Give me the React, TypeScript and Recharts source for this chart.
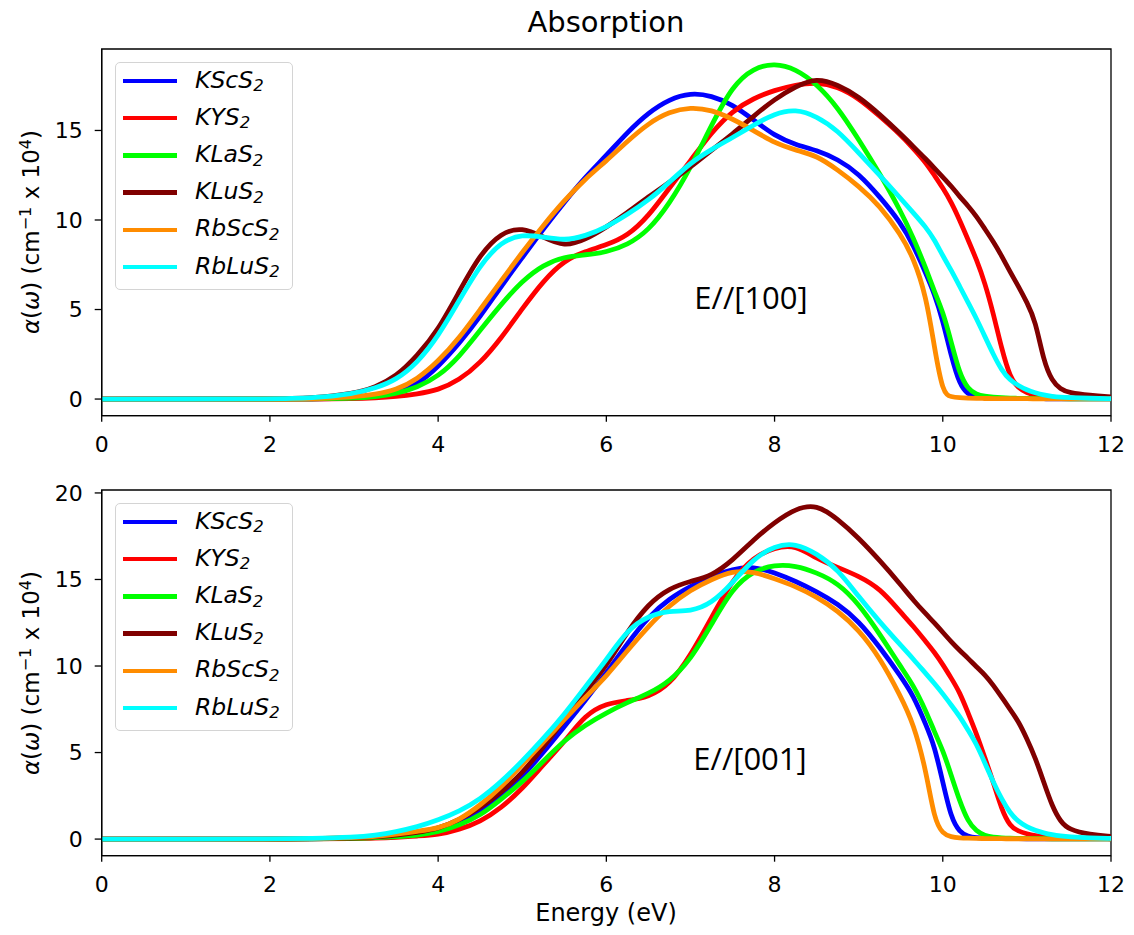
import React from "react";
import { LineChart, Line, XAxis, YAxis, ReferenceArea } from "recharts";

// Energy grid (eV) shared by every curve; finer steps where the edges fall off.
const ENERGY = [
  0, 1, 2, 2.5, 3, 3.25, 3.5, 3.75, 4, 4.25, 4.5, 4.75, 5, 5.25, 5.5, 5.75, 6, 6.25, 6.5, 6.75,
  7, 7.25, 7.5, 7.75, 8, 8.25, 8.5, 8.75, 9, 9.25, 9.5, 9.65, 9.8, 9.9, 10, 10.1, 10.2, 10.3,
  10.4, 10.5, 10.6, 10.7, 10.8, 10.9, 11, 11.1, 11.2, 11.3, 11.4, 11.5, 11.75, 12,
];

const NAMES = ["KScS2", "KYS2", "KLaS2", "KLuS2", "RbScS2", "RbLuS2"];
const COLORS = ["#0000ff", "#ff0000", "#00ff00", "#800000", "#ff8c00", "#00ffff"];

const X_TICKS = [0, 2, 4, 6, 8, 10, 12];
const Y_TICKS_100 = [0, 5, 10, 15];
const Y_TICKS_001 = [0, 5, 10, 15, 20];

// E//[100]  (alpha, 10^4 cm^-1)
const KSCS2_100 = [0, 0, 0, 0.01, 0.05, 0.12, 0.3, 0.8, 1.8, 3.1, 4.6, 6.3, 7.9, 9.5, 11.0, 12.4, 13.6, 14.9, 16.0, 16.75, 17.1, 16.95, 16.45, 15.6, 14.7, 14.2, 13.9, 13.4, 12.6, 11.3, 9.85, 8.6, 7.0, 5.9, 4.4, 2.4, 0.8, 0.25, 0.1, 0.06, 0.04, 0.03, 0.03, 0.02, 0.02, 0.02, 0.02, 0.01, 0.01, 0.01, 0.01, 0.01];
const KYS2_100 = [0, 0, 0, 0, 0.02, 0.06, 0.13, 0.28, 0.5, 1.05, 2.0, 3.4, 5.05, 6.6, 7.75, 8.25, 8.6, 9.1, 10.2, 11.8, 13.3, 14.9, 16.1, 16.8, 17.25, 17.55, 17.7, 17.45, 16.8, 15.8, 14.75, 14.0, 13.2, 12.5, 11.8, 11.0, 10.0, 8.9, 7.8, 6.5, 4.8, 2.8, 1.2, 0.6, 0.35, 0.22, 0.15, 0.1, 0.07, 0.05, 0.03, 0.02];
const KLAS2_100 = [0, 0, 0, 0.01, 0.04, 0.12, 0.3, 0.65, 1.25, 2.35, 3.85, 5.3, 6.6, 7.5, 7.95, 8.05, 8.2, 8.6, 9.4, 10.9, 12.9, 15.3, 17.5, 18.5, 18.75, 18.45, 17.6, 16.3, 14.5, 12.6, 10.5, 9.0, 7.3, 6.0, 4.9, 3.2, 1.4, 0.55, 0.25, 0.15, 0.1, 0.07, 0.05, 0.04, 0.03, 0.03, 0.02, 0.02, 0.02, 0.01, 0.01, 0.01];
const KLUS2_100 = [0, 0, 0.01, 0.04, 0.3, 0.65, 1.25, 2.4, 3.85, 6.0, 8.1, 9.3, 9.6, 9.05, 8.5, 8.9, 9.6, 10.4, 11.3, 12.1, 12.95, 13.9, 14.8, 15.8, 16.75, 17.45, 17.95, 17.55, 16.9, 15.9, 14.8, 14.1, 13.4, 12.9, 12.4, 11.9, 11.3, 10.8, 10.2, 9.5, 8.8, 8.0, 7.1, 6.3, 5.4, 4.4, 2.1, 1.0, 0.55, 0.35, 0.2, 0.12];
const RBSCS2_100 = [0, 0, 0, 0.01, 0.12, 0.25, 0.5, 1.1, 2.1, 3.4, 5.0, 6.6, 8.2, 9.7, 11.1, 12.3, 13.3, 14.4, 15.4, 16.05, 16.3, 16.15, 15.65, 15.0, 14.3, 13.9, 13.6, 12.8, 11.9, 10.8, 9.2, 7.9, 5.8, 2.9, 0.3, 0.12, 0.07, 0.05, 0.04, 0.03, 0.03, 0.02, 0.02, 0.02, 0.02, 0.01, 0.01, 0.01, 0.01, 0.01, 0.01, 0.01];
const RBLUS2_100 = [0, 0, 0.01, 0.04, 0.3, 0.6, 1.06, 2.0, 3.5, 5.5, 7.5, 8.8, 9.2, 9.05, 8.85, 9.1, 9.6, 10.3, 11.1, 12.1, 13.2, 13.95, 14.6, 15.3, 15.95, 16.2, 15.8, 15.0, 13.75, 12.5, 11.2, 10.4, 9.6, 8.9, 8.0, 7.2, 6.3, 5.4, 4.5, 3.5, 2.5, 1.6, 1.05, 0.75, 0.5, 0.35, 0.22, 0.14, 0.1, 0.08, 0.04, 0.02];

// E//[001]
const KSCS2_001 = [0, 0, 0, 0.01, 0.05, 0.1, 0.18, 0.3, 0.45, 0.9, 1.5, 2.5, 3.6, 5.0, 6.5, 8.0, 9.6, 11.3, 12.85, 13.9, 14.6, 15.2, 15.6, 15.75, 15.4, 14.9, 14.3, 13.6, 12.6, 11.1, 9.4, 8.3, 6.6, 5.4, 3.3, 1.2, 0.4, 0.15, 0.08, 0.05, 0.04, 0.03, 0.03, 0.02, 0.02, 0.02, 0.02, 0.01, 0.01, 0.01, 0.01, 0.01];
const KYS2_001 = [0, 0, 0, 0.01, 0.03, 0.05, 0.1, 0.18, 0.25, 0.55, 1.0, 1.8, 2.9, 4.3, 5.6, 7.2, 7.85, 8.0, 8.2, 8.9, 10.6, 12.8, 15.0, 16.3, 16.85, 17.0, 16.2, 15.7, 15.2, 14.5, 13.1, 12.3, 11.4, 10.8, 10.1, 9.3, 8.5, 7.3, 6.1, 4.7, 3.3, 1.7, 0.73, 0.45, 0.3, 0.2, 0.14, 0.1, 0.08, 0.06, 0.04, 0.02];
const KLAS2_001 = [0, 0, 0, 0.01, 0.04, 0.08, 0.14, 0.22, 0.4, 0.8, 1.35, 2.3, 3.3, 4.5, 5.7, 6.6, 7.3, 7.9, 8.4, 9.1, 10.35, 12.4, 14.5, 15.5, 15.85, 15.8, 15.4, 14.8, 13.6, 11.85, 9.95, 8.9, 7.4, 6.2, 5.15, 3.7, 2.2, 1.0, 0.45, 0.2, 0.1, 0.07, 0.05, 0.04, 0.03, 0.03, 0.02, 0.02, 0.02, 0.01, 0.01, 0.01];
const KLUS2_001 = [0, 0, 0, 0.02, 0.06, 0.12, 0.22, 0.38, 0.6, 1.1, 1.8, 2.7, 3.8, 5.3, 6.9, 8.5, 10.0, 12.0, 13.6, 14.5, 14.9, 15.2, 16.1, 17.3, 18.3, 19.1, 19.35, 18.5, 17.4, 16.1, 14.7, 13.8, 13.0, 12.5, 11.95, 11.4, 10.9, 10.45, 9.95, 9.5, 8.9, 8.2, 7.5, 6.8, 5.8, 4.7, 3.3, 1.9, 1.0, 0.55, 0.25, 0.15];
const RBSCS2_001 = [0, 0, 0, 0.02, 0.08, 0.15, 0.28, 0.45, 0.6, 1.1, 1.95, 3.0, 4.3, 5.6, 6.9, 8.2, 9.4, 10.9, 12.3, 13.5, 14.4, 15.0, 15.5, 15.45, 15.05, 14.6, 14.0, 13.2, 12.1, 10.5, 8.25, 6.7, 4.0, 1.1, 0.3, 0.12, 0.07, 0.05, 0.04, 0.03, 0.03, 0.02, 0.02, 0.02, 0.02, 0.01, 0.01, 0.01, 0.01, 0.01, 0.01, 0.01];
const RBLUS2_001 = [0, 0, 0.01, 0.03, 0.1, 0.22, 0.42, 0.7, 1.1, 1.6, 2.3, 3.3, 4.5, 5.8, 7.2, 8.8, 10.35, 12.1, 12.9, 13.2, 13.15, 13.6, 14.8, 16.2, 16.95, 17.1, 16.5, 15.6, 14.0, 12.55, 11.2, 10.4, 9.55, 9.0, 8.4, 7.75, 7.1, 6.3, 5.5, 4.4, 3.3, 2.3, 1.5, 1.0, 0.7, 0.5, 0.35, 0.25, 0.18, 0.13, 0.07, 0.04];

const SERIES_100 = [KSCS2_100, KYS2_100, KLAS2_100, KLUS2_100, RBSCS2_100, RBLUS2_100];
const SERIES_001 = [KSCS2_001, KYS2_001, KLAS2_001, KLUS2_001, RBSCS2_001, RBLUS2_001];

function buildRows(series: number[][]) {
  return ENERGY.map((e, i) => {
    const row: Record<string, number> = { E: e };
    series.forEach((s, j) => (row["s" + j] = s[i]));
    return row;
  });
}

const FONT = "'DejaVu Sans', sans-serif";
const tickStyle = { fill: "#000", fontSize: 22, fontFamily: FONT };

// "KScS2" -> KScS + subscript 2
function Formula({ name }: { name: string }) {
  const base = name.replace(/\d+$/, "");
  const sub = name.slice(base.length);
  return (
    <span style={{ fontStyle: "italic" }}>
      {base}
      <span style={{ fontSize: "0.7em", position: "relative", top: "0.22em" }}>{sub}</span>
    </span>
  );
}

function LegendBox({ top }: { top: number }) {
  return (
    <div
      style={{
        position: "absolute",
        left: 115,
        top,
        width: 178,
        height: 228,
        boxSizing: "border-box",
        border: "1px solid #d4d4d4",
        borderRadius: 5,
        background: "rgba(255,255,255,0.8)",
      }}
    >
      {NAMES.map((n, i) => (
        <div
          key={n}
          style={{
            position: "absolute",
            left: 0,
            top: 18 + i * 37.2 - 18,
            height: 36,
            display: "flex",
            alignItems: "center",
            whiteSpace: "nowrap",
          }}
        >
          <div style={{ marginLeft: 7, width: 54, height: 4.5, background: COLORS[i] }} />
          <span style={{ marginLeft: 18, fontFamily: FONT, fontSize: 23.5, lineHeight: "36px", color: "#000" }}>
            <Formula name={n} />
          </span>
        </div>
      ))}
    </div>
  );
}

function YLabel({ cy }: { cy: number }) {
  const sup = { fontSize: "0.7em", position: "relative" as const, top: "-0.5em" };
  return (
    <div
      style={{
        position: "absolute",
        left: 31,
        top: cy,
        transform: "translate(-50%, -50%) rotate(-90deg)",
        whiteSpace: "nowrap",
        fontFamily: FONT,
        fontSize: 23,
        lineHeight: 1,
        color: "#000",
      }}
    >
      <i>α</i>(<i>ω</i>) (cm<span style={sup}>−1</span> x 10<span style={sup}>4</span>)
    </div>
  );
}

function Panel({
  series,
  top,
  height,
  marginTop,
  marginBottom,
  yDomain,
  yTicks,
}: {
  series: number[][];
  top: number;
  height: number;
  marginTop: number;
  marginBottom: number;
  yDomain: [number, number];
  yTicks: number[];
}) {
  const data = buildRows(series);
  return (
    <div style={{ position: "absolute", left: 0, top, width: 1134, height }}>
      <LineChart
        width={1134}
        height={height}
        data={data}
        margin={{ top: marginTop, right: 23, bottom: marginBottom, left: 41.7 }}
      >
        <XAxis
          dataKey="E"
          type="number"
          domain={[0, 12]}
          ticks={X_TICKS}
          allowDataOverflow
          height={40}
          tickSize={6}
          tickMargin={15}
          tick={tickStyle}
          axisLine={{ stroke: "#000", strokeWidth: 1.3 }}
          tickLine={{ stroke: "#000", strokeWidth: 1.3 }}
        />
        <YAxis
          type="number"
          domain={yDomain}
          ticks={yTicks}
          allowDataOverflow
          width={60}
          tickSize={7}
          tickMargin={12}
          tick={tickStyle}
          axisLine={{ stroke: "#000", strokeWidth: 1.3 }}
          tickLine={{ stroke: "#000", strokeWidth: 1.3 }}
        />
        {series.map((_, j) => (
          <Line
            key={NAMES[j]}
            dataKey={"s" + j}
            name={NAMES[j]}
            type="basis"
            stroke={COLORS[j]}
            strokeWidth={4.8}
            dot={false}
            isAnimationActive={false}
          />
        ))}
        <ReferenceArea
          x1={0}
          x2={12}
          y1={yDomain[0]}
          y2={yDomain[1]}
          fill="none"
          fillOpacity={0}
          stroke="#000"
          strokeWidth={1.3}
          strokeOpacity={1}
        />
      </LineChart>
    </div>
  );
}

const textBase: React.CSSProperties = {
  position: "absolute",
  whiteSpace: "nowrap",
  color: "#000",
  transform: "translate(-50%, -50%)",
  lineHeight: 1,
};

export default function App() {
  return (
    <div style={{ position: "absolute", left: 0, top: 0, width: 1134, height: 935, background: "#fff" }}>
      <Panel
        series={SERIES_100}
        top={0}
        height={470}
        marginTop={49}
        marginBottom={14.3}
        yDomain={[-0.93, 19.55]}
        yTicks={Y_TICKS_100}
      />
      <Panel
        series={SERIES_001}
        top={470}
        height={465}
        marginTop={20}
        marginBottom={39.3}
        yDomain={[-0.96, 20.17]}
        yTicks={Y_TICKS_001}
      />
      <div style={{ ...textBase, left: 606, top: 22, fontFamily: FONT, fontSize: 29 }}>Absorption</div>
      <div style={{ ...textBase, left: 606, top: 913, fontFamily: FONT, fontSize: 24 }}>Energy (eV)</div>
      <YLabel cy={232} />
      <YLabel cy={673} />
      <LegendBox top={62} />
      <LegendBox top={503} />
      <div style={{ ...textBase, left: 751, top: 297, fontFamily: "'Open Sans', sans-serif", fontSize: 31 }}>E//[100]</div>
      <div style={{ ...textBase, left: 750, top: 758, fontFamily: "'Open Sans', sans-serif", fontSize: 31 }}>E//[001]</div>
    </div>
  );
}
